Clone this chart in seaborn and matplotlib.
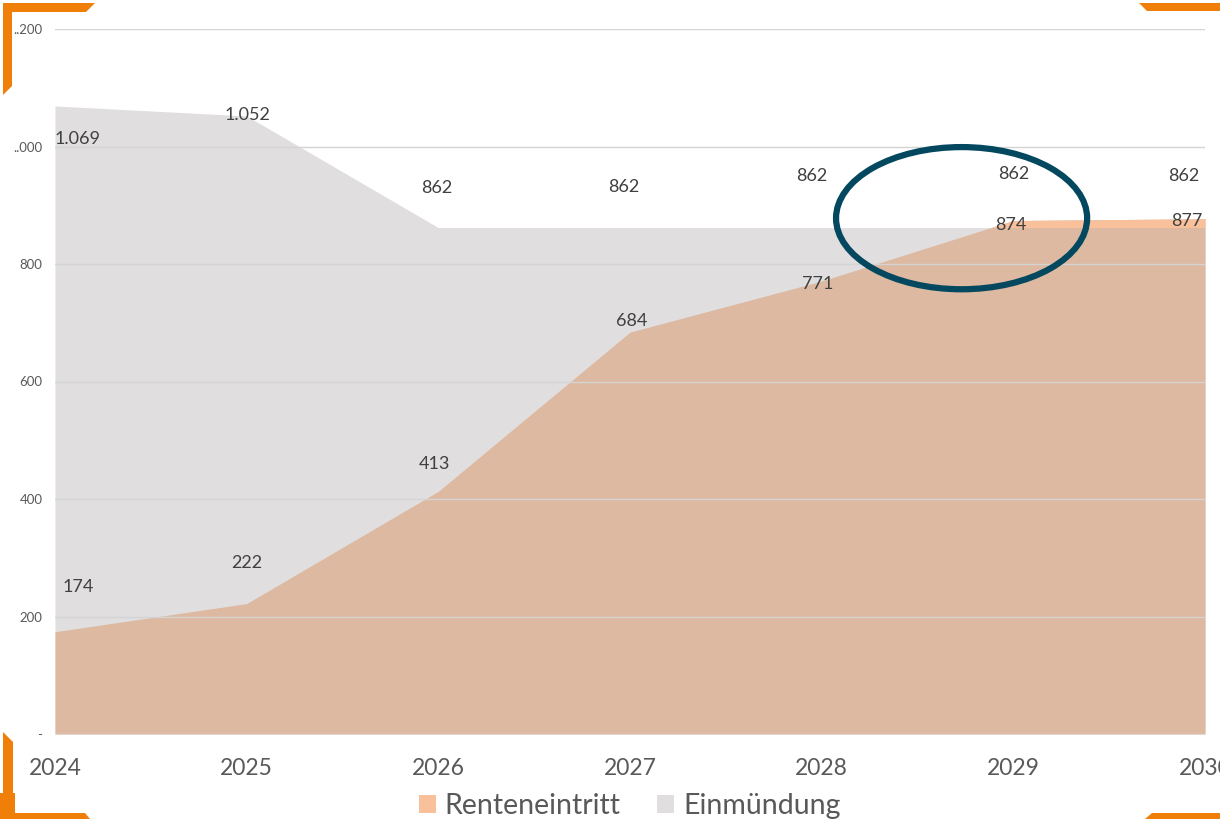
import numpy as np
import matplotlib
matplotlib.use("Agg")
import matplotlib.pyplot as plt
import seaborn as sns
from matplotlib.patches import Ellipse, Polygon, Patch

# ---- data ----
years = [2024, 2025, 2026, 2027, 2028, 2029, 2030]
renteneintritt = [174, 222, 413, 684, 771, 874, 877]
einmuendung = [1069, 1052, 862, 862, 862, 862, 862]
ytick_vals = [0, 200, 400, 600, 800, 1000, 1200]
ytick_labels = ["-", "200", "400", "600", "800", "..000", "..200"]
label_einm = ["1.069", "1.052", "862", "862", "862", "862", "862"]
label_rente = ["174", "222", "413", "684", "771", "874", "877"]

# label offsets in pixels (styling)
off_einm = [(23, -33), (1, 1), (-2, 40), (-6, 41), (-10, 52), (0, 54), (-21, 52)]
off_rente = [(23, 45), (0, 41), (-4, 27), (2, 11), (-4, -3), (-3, -4), (-18, -2)]

sns.set_theme(style="white")
plt.rcParams['font.family'] = ['Lato', 'DejaVu Sans']

C_GRAY = "#e0dedf"
C_TAN = "#dcb9a0"
C_ORANGE = "#f8c09b"
C_TEXT = "#595959"
C_LABEL = "#404040"

fig = plt.figure(figsize=(12.2, 8.19), dpi=100)
ax = fig.add_axes([55/1220, 1 - 734/819, 1150/1220, (734 - 29)/819])

x = np.array(years, dtype=float)
r = np.array(renteneintritt, dtype=float)
e = np.array(einmuendung, dtype=float)

ax.fill_between(x, 0, e, color=C_GRAY, lw=0, zorder=1)
ax.fill_between(x, 0, r, color=C_TAN, lw=0, zorder=1.1)
ax.fill_between(x, e, r, where=r > e, interpolate=True, color=C_ORANGE, lw=0, zorder=1.2)
sns.lineplot(x=years, y=renteneintritt, ax=ax, lw=0, legend=False)

ax.set_xlim(2024, 2030)
ax.set_ylim(0, 1200)
ax.set_yticks(ytick_vals)
ax.set_yticklabels(ytick_labels)
ax.set_xticks(years)
ax.set_xticklabels([str(y) for y in years])
ax.grid(axis='y', color='#d4d4d4', lw=1)
ax.grid(axis='x', visible=False)
ax.set_axisbelow(False)
for s in ax.spines.values():
    s.set_visible(False)
ax.tick_params(axis='x', length=0, pad=17, labelsize=16.5, labelcolor=C_TEXT)
ax.tick_params(axis='y', length=0, pad=9, labelsize=9.5, labelcolor=C_TEXT)
ax.set_xlabel("")
ax.set_ylabel("")

for xi, v, lab, (dx, dy) in zip(years, einmuendung, label_einm, off_einm):
    ax.annotate(lab, (xi, v), xytext=(dx, dy), textcoords='offset pixels',
                ha='center', va='center', fontsize=13, color=C_LABEL, zorder=5,
                annotation_clip=False)
for xi, v, lab, (dx, dy) in zip(years, renteneintritt, label_rente, off_rente):
    ax.annotate(lab, (xi, v), xytext=(dx, dy), textcoords='offset pixels',
                ha='center', va='center', fontsize=13, color=C_LABEL, zorder=5,
                annotation_clip=False)

# highlight ellipse
ell = Ellipse((2028.73, 878), width=1.31, height=242, fill=False,
              edgecolor="#03485f", lw=4.5, zorder=6)
ax.add_patch(ell)

# legend
handles = [Patch(facecolor=C_ORANGE, edgecolor='none', label='Renteneintritt'),
           Patch(facecolor=C_GRAY, edgecolor='none', label='Einmündung')]
leg = fig.legend(handles=handles, loc='center', bbox_to_anchor=(0.516, 0.016),
                 ncol=2, frameon=False, fontsize=20.5, handlelength=0.6,
                 handleheight=0.6, handletextpad=0.3, columnspacing=1.3,
                 borderpad=0)
for t in leg.get_texts():
    t.set_color(C_TEXT)

# decorative orange corners (figure pixel coords)
C_DECO = "#f07f09"
H = 819.0
W = 1220.0
def px(pts):
    return [(a / W, 1 - b / H) for a, b in pts]
corners = [
    [(3, 3), (95, 3), (86, 12), (12, 12), (12, 86), (3, 95)],
    [(1139, 3), (1220, 3), (1220, 11), (1147, 11)],
    [(3, 732), (13, 742), (13, 793), (15, 793), (15, 813), (85, 813), (90, 819), (0, 819), (0, 793), (3, 793)],
    [(1152, 813), (1220, 813), (1220, 819), (1145, 819)],
]
for c in corners:
    fig.patches.append(Polygon(px(c), closed=True, transform=fig.transFigure,
                               facecolor=C_DECO, edgecolor='none', zorder=10))

fig.savefig("out.png", dpi=100)
